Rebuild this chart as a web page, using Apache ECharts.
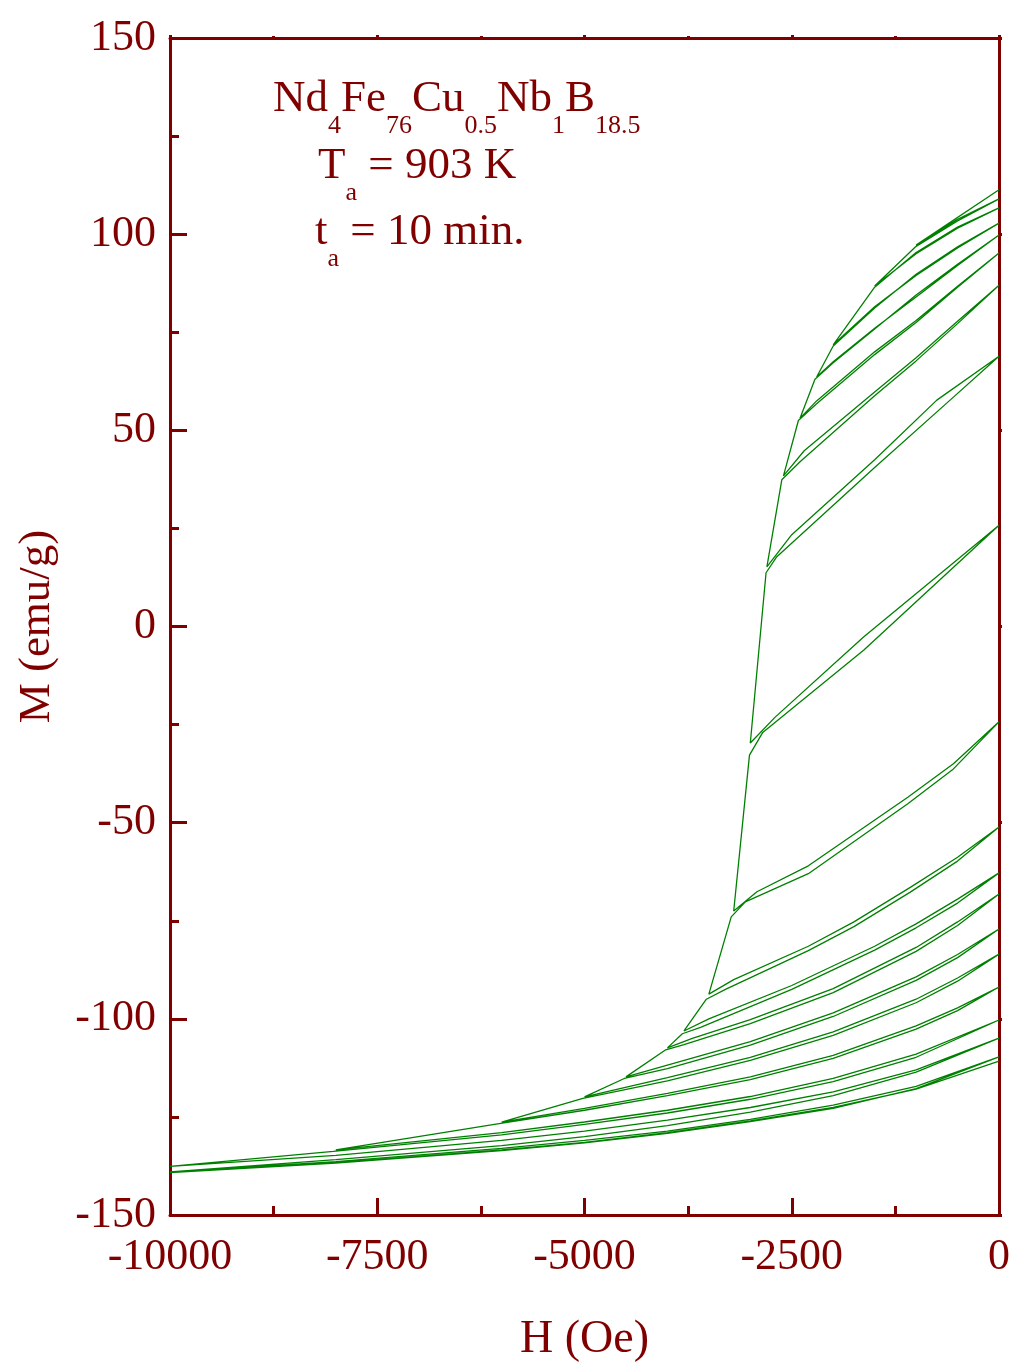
<!DOCTYPE html>
<html>
<head>
<meta charset="utf-8">
<script src="https://cdn.jsdelivr.net/npm/echarts/dist/echarts.min.js"></script>
<style>
html, body { margin: 0; padding: 0; background: #ffffff; overflow: hidden; }
#chart { width: 1014px; height: 1368px; }
</style>
</head>
<body>
<div id="chart"></div>
<script>
// Recoil loops of Nd4Fe76Cu0.5Nb1B18.5 (annealed 903 K, 10 min): H in Oe, M in emu/g.
const xTicks = [-10000, -7500, -5000, -2500, 0];
const yTicks = [-150, -100, -50, 0, 50, 100, 150];

// first descent from the remanent state
const initialBranch = [[0, 111.3], [-1000, 97.2]];

// recoil branches: from the reversal field back to H = 0
const recoilBranches = [
  [[-1000, 97.2], [-500, 103.8], [0, 109.0]],
  [[-1500, 86.8], [-1000, 95.0], [-500, 101.5], [0, 106.7]],
  [[-2000, 71.8], [-1500, 81.5], [-1000, 89.5], [-500, 96.5], [0, 102.8]],
  [[-2200, 63.6], [-2000, 67.5], [-1500, 76.0], [-1000, 84.0], [-500, 92.0], [0, 99.8]],
  [[-2400, 53.1], [-2200, 57.5], [-1500, 70.0], [-1000, 78.0], [-500, 86.7], [0, 95.2]],
  [[-2600, 38.4], [-2350, 44.8], [-1500, 59.8], [-1000, 68.5], [-500, 77.8], [0, 87.0]],
  [[-2800, 15.2], [-2500, 23.4], [-1500, 42.5], [-750, 57.7], [0, 68.9]],
  [[-3000, -29.7], [-2700, -23.1], [-1630, -2.6], [0, 25.8]],
  [[-3200, -72.5], [-2920, -67.6], [-2300, -61.0], [-1100, -43.5], [-550, -35.0], [0, -24.3]],
  [[-3500, -93.7], [-3200, -90.0], [-2300, -81.5], [-1750, -75.3], [-1070, -66.5], [-500, -58.8], [0, -51.1]],
  [[-3800, -103.1], [-3500, -100.0], [-2500, -91.5], [-1500, -81.5], [-1000, -75.8], [-500, -69.5], [0, -62.8]],
  [[-4000, -107.4], [-3700, -105.0], [-3000, -100.2], [-2000, -92.3], [-1000, -81.8], [-500, -75.3], [0, -68.2]],
  [[-4500, -114.8], [-4000, -111.8], [-3000, -105.8], [-2000, -98.5], [-1000, -89.3], [-500, -83.6], [0, -77.1]],
  [[-5000, -119.9], [-4000, -115.0], [-3000, -109.8], [-2000, -103.3], [-1000, -95.0], [-500, -89.6], [0, -83.5]],
  [[-6000, -126.3], [-5000, -122.8], [-4000, -119.0], [-3000, -114.8], [-2000, -109.3], [-1000, -101.8], [-500, -97.2], [0, -91.9]],
  [[-8000, -133.4], [-6000, -129.0], [-5000, -126.3], [-4000, -123.3], [-3000, -119.8], [-2000, -115.2], [-1000, -109.0], [0, -100.3]],
  [[-10000, -137.6], [-8000, -134.8], [-6000, -131.0], [-5000, -128.6], [-4000, -125.8], [-3000, -122.6], [-2000, -118.6], [-1000, -113.0], [0, -104.9]],
  [[-10000, -139.0], [-8000, -136.4], [-6000, -133.0], [-5000, -131.0], [-4000, -128.6], [-3000, -125.6], [-2000, -122.0], [-1000, -117.2], [0, -109.7]],
  [[-10000, -139.2], [-8000, -136.7], [-6000, -133.4], [-5000, -131.5], [-4000, -129.0], [-3000, -126.0], [-2000, -122.6], [-1000, -117.9], [0, -110.8]]
];

// return branches: from H = 0 down again towards the last reversal field
const returnBranches = [
  [[0, 109.0], [-500, 103.4], [-1000, 96.9]],
  [[0, 106.7], [-500, 101.8], [-1000, 95.3], [-1500, 86.5]],
  [[0, 102.8], [-500, 96.8], [-1000, 89.8], [-1500, 81.2], [-2000, 71.5]],
  [[0, 99.8], [-500, 92.3], [-1000, 84.5], [-1500, 75.8], [-2000, 67.2], [-2220, 63.0]],
  [[0, 95.2], [-500, 86.5], [-1000, 77.5], [-1500, 69.3], [-2200, 56.8], [-2420, 52.5]],
  [[0, 87.0], [-500, 77.2], [-1000, 67.7], [-1500, 58.8], [-2400, 42.0], [-2620, 37.4]],
  [[0, 68.9], [-590, 57.7], [-1500, 40.5], [-2680, 17.8], [-2810, 13.7]],
  [[0, 25.8], [-1630, -6.0], [-2850, -27.0], [-3010, -32.8]],
  [[0, -24.3], [-550, -36.3], [-1100, -45.2], [-2300, -63.0], [-3060, -70.2], [-3230, -74.0]],
  [[0, -51.1], [-500, -59.8], [-1070, -67.7], [-1750, -76.5], [-2300, -82.6], [-3300, -92.5], [-3530, -95.0]],
  [[0, -62.8], [-500, -70.5], [-1000, -76.8], [-1500, -82.5], [-2500, -92.5], [-3600, -102.2], [-3820, -103.8]],
  [[0, -68.2], [-500, -76.2], [-1000, -82.8], [-2000, -93.3], [-3000, -101.2], [-3800, -106.6], [-4020, -107.9]],
  [[0, -77.1], [-500, -84.4], [-1000, -90.2], [-2000, -99.4], [-3000, -106.7], [-4000, -112.7], [-4520, -115.2]],
  [[0, -83.5], [-500, -90.4], [-1000, -95.9], [-2000, -104.2], [-3000, -110.6], [-4000, -115.8], [-5020, -120.3]],
  [[0, -91.9], [-500, -97.9], [-1000, -102.6], [-2000, -110.1], [-3000, -115.5], [-4000, -119.6], [-5000, -123.3], [-6030, -126.7]],
  [[0, -100.3], [-1000, -109.8], [-2000, -116.0], [-3000, -120.5], [-4000, -124.0], [-5000, -126.9], [-6000, -129.6], [-8030, -133.8]],
  [[0, -104.9], [-1000, -113.6], [-2000, -119.6], [-3000, -123.8], [-4000, -127.2], [-5000, -130.0], [-6000, -132.3], [-8000, -135.9], [-10000, -139.0]],
  [[0, -109.7], [-1000, -117.8], [-2000, -122.8], [-3000, -126.2], [-4000, -129.2], [-5000, -131.6], [-6000, -133.6], [-8000, -136.8], [-10000, -139.2]]
];

// the measurement runs as one continuous trace
const trace = [...initialBranch];
recoilBranches.forEach((branch, k) => {
  trace.push(...branch);
  if (returnBranches[k]) trace.push(...returnBranches[k]);
});

const MAROON = '#800000';
const SERIF = '"Liberation Serif", "Times New Roman", serif';

const chart = echarts.init(document.getElementById('chart'), null, { renderer: 'canvas', width: 1014, height: 1368 });

const sub = { fontSize: 26, fontFamily: SERIF, fill: MAROON, verticalAlign: 'top', padding: [36, 0, 0, 0] };
const big = { fontSize: 45, fontFamily: SERIF, fill: MAROON, verticalAlign: 'top' };

// frame axis: labelled ones carry inward ticks, the opposite ones only short outward marks
function axisCommon(inside, tickLen, minorLen) {
  return {
    axisLine: { show: true, onZero: false, lineStyle: { color: MAROON, width: 3 } },
    axisTick: { show: true, inside: inside, length: tickLen, lineStyle: { color: MAROON, width: 3 } },
    minorTick: { show: true, splitNumber: 2, length: minorLen, lineStyle: { color: MAROON, width: 3 } },
    splitLine: { show: false },
    axisLabel: { show: false }
  };
}

chart.setOption({
  animation: false,
  backgroundColor: '#ffffff',
  grid: { left: 170, top: 38, width: 829, height: 1177, containLabel: false },
  xAxis: [
    Object.assign(axisCommon(true, 17, 9), {
      type: 'value', position: 'bottom', min: xTicks[0], max: xTicks[xTicks.length - 1], interval: 2500,
      name: 'H (Oe)', nameLocation: 'middle', nameGap: 102,
      nameTextStyle: { color: MAROON, fontSize: 46, fontFamily: SERIF },
      axisLabel: { show: true, color: MAROON, fontSize: 44, fontFamily: SERIF, margin: 20,
        formatter: v => String(v) }
    }),
    Object.assign(axisCommon(false, 3, 2), {
      type: 'value', position: 'top', min: xTicks[0], max: xTicks[xTicks.length - 1], interval: 2500
    })
  ],
  yAxis: [
    Object.assign(axisCommon(true, 17, 9), {
      type: 'value', position: 'left', min: yTicks[0], max: yTicks[yTicks.length - 1], interval: 50,
      name: 'M (emu/g)', nameLocation: 'middle', nameGap: 110, nameRotate: 90,
      nameTextStyle: { color: MAROON, fontSize: 45, fontFamily: SERIF },
      axisLabel: { show: true, color: MAROON, fontSize: 44, fontFamily: SERIF, margin: 14,
        formatter: v => String(v) }
    }),
    Object.assign(axisCommon(false, 3, 2), {
      type: 'value', position: 'right', min: yTicks[0], max: yTicks[yTicks.length - 1], interval: 50
    })
  ],
  series: [{
    type: 'line',
    xAxisIndex: 0,
    yAxisIndex: 0,
    data: trace,
    showSymbol: false,
    symbol: 'none',
    smooth: false,
    lineStyle: { color: '#008000', width: 1.3 },
    z: 1
  }],
  graphic: [
    {
      type: 'text', left: 273, top: 77,
      style: {
        text: '{m|Nd}{s|4}{m|Fe}{s|76}{m|Cu}{s|0.5}{m|Nb}{s|1}{m|B}{s|18.5}',
        rich: { m: big, s: sub }
      }
    },
    {
      type: 'text', left: 318, top: 144,
      style: { text: '{m|T}{s|a}{m| = 903 K}', rich: { m: big, s: sub } }
    },
    {
      type: 'text', left: 315, top: 210,
      style: { text: '{m|t}{s|a}{m| = 10 min.}', rich: { m: big, s: sub } }
    }
  ]
});
</script>
</body>
</html>
